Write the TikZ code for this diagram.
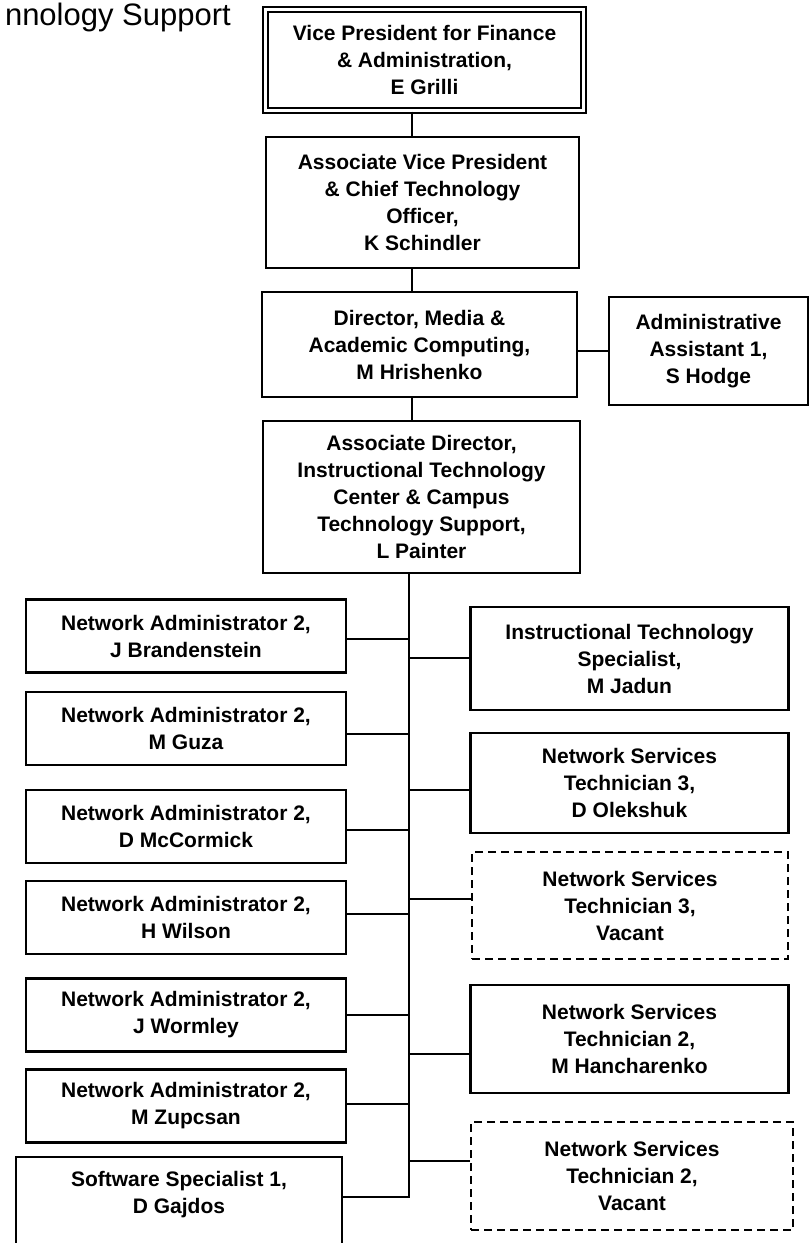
\documentclass[tikz,border=0pt]{standalone}
\usepackage{fontspec}
\setmainfont{Liberation Sans}
\begin{document}
\begin{tikzpicture}[x=1pt,y=-1pt,
  box/.style={draw, line width=2.2pt, align=center, inner sep=0pt, font=\bfseries\fontsize{21}{27}\selectfont},
  txt/.style={align=center, inner sep=0pt, font=\bfseries\fontsize{21}{27}\selectfont},
  vacant/.style={box, dash pattern=on 8pt off 5pt},
  link/.style={line width=2pt},
  lbox/.style={box, minimum width=320pt, minimum height=73pt},
  rbox/.style={box, minimum width=318pt}]
\useasboundingbox (0,0) rectangle (810,1243);
\clip (0,0) rectangle (810,1243);
\fill[white] (0,0) rectangle (810,1243);
% title
\node[anchor=base east, inner sep=0pt, font=\fontsize{31}{36}\selectfont] (title) at (231,25) {nnology Support};
% top chain
\node[box, double, double distance=3pt, line width=1.8pt, minimum width=318.4pt, minimum height=101.4pt] (vp) at (424.5,60) {Vice President for Finance\\ \& Administration,\\ E Grilli};
\node[box, minimum width=313pt, minimum height=131pt] (avp) at (422.5,202.5) {Associate Vice President\\ \& Chief Technology\\ Officer,\\ K Schindler};
\node[box, minimum width=315pt, minimum height=105pt] (dir) at (419.5,344.5) {Director, Media \&\\ Academic Computing,\\ M Hrishenko};
\node[box, minimum width=199pt, minimum height=108pt] (adm) at (708.5,351) {Administrative\\ Assistant 1,\\ S Hodge};
\node[box, minimum width=317pt, minimum height=152pt] (pai) at (421.5,497) {Associate Director,\\ Instructional Technology\\ Center \& Campus\\ Technology Support,\\ L Painter};
% left column
\node[lbox] (na1) at (186,636) {Network Administrator 2,\\ J Brandenstein};
\node[lbox] (na2) at (186,728.5) {Network Administrator 2,\\ M Guza};
\node[lbox] (na3) at (186,826.5) {Network Administrator 2,\\ D McCormick};
\node[lbox] (na4) at (186,917.5) {Network Administrator 2,\\ H Wilson};
\node[lbox] (na5) at (186,1015) {Network Administrator 2,\\ J Wormley};
\node[lbox] (na6) at (186,1106) {Network Administrator 2,\\ M Zupcsan};
\node[box, minimum width=326pt, minimum height=110pt] (ss) at (179,1212) {};
\node[txt] (sst) at (179,1195) {Software Specialist 1,\\ D Gajdos};
% right column
\node[rbox, minimum height=103pt] (its) at (629.5,658.5) {Instructional Technology\\ Specialist,\\ M Jadun};
\node[rbox, minimum height=100pt] (nst1) at (629.5,783) {Network Services\\ Technician 3,\\ D Olekshuk};
\node[vacant, minimum width=316pt, minimum height=107pt] (nst2) at (630,905.5) {Network Services\\ Technician 3,\\ Vacant};
\node[rbox, minimum height=108pt] (nst3) at (629.5,1039) {Network Services\\ Technician 2,\\ M Hancharenko};
\node[vacant, minimum width=322pt, minimum height=108pt] (nst4) at (632,1176) {Network Services\\ Technician 2,\\ Vacant};
% connectors
\coordinate (up) at (412,0);
\coordinate (tr) at (409,0);
\coordinate (trend) at (409,1198);
\draw[link] (vp.south -| up) -- (avp.north -| up);
\draw[link] (avp.south -| up) -- (dir.north -| up);
\draw[link] (dir.south -| up) -- (pai.north -| up);
\draw[link] (adm.west -| dir.east) -- (adm.west);
\draw[link] (pai.south -| tr) -- (trend);
\coordinate (l1) at (409,639);
\coordinate (l2) at (409,734);
\coordinate (l3) at (409,830);
\coordinate (l4) at (409,914);
\coordinate (l5) at (409,1015);
\coordinate (l6) at (409,1104);
\coordinate (l7) at (409,1197);
\draw[link] (l1 -| na1.east) -- (l1);
\draw[link] (l2 -| na2.east) -- (l2);
\draw[link] (l3 -| na3.east) -- (l3);
\draw[link] (l4 -| na4.east) -- (l4);
\draw[link] (l5 -| na5.east) -- (l5);
\draw[link] (l6 -| na6.east) -- (l6);
\draw[link] (l7 -| ss.east) -- (l7);
\coordinate (r1) at (409,658);
\coordinate (r2) at (409,790);
\coordinate (r3) at (409,899);
\coordinate (r4) at (409,1054);
\coordinate (r5) at (409,1161);
\draw[link] (r1) -- (r1 -| its.west);
\draw[link] (r2) -- (r2 -| nst1.west);
\draw[link] (r3) -- (r3 -| nst2.west);
\draw[link] (r4) -- (r4 -| nst3.west);
\draw[link] (r5) -- (r5 -| nst4.west);
\end{tikzpicture}
\end{document}
